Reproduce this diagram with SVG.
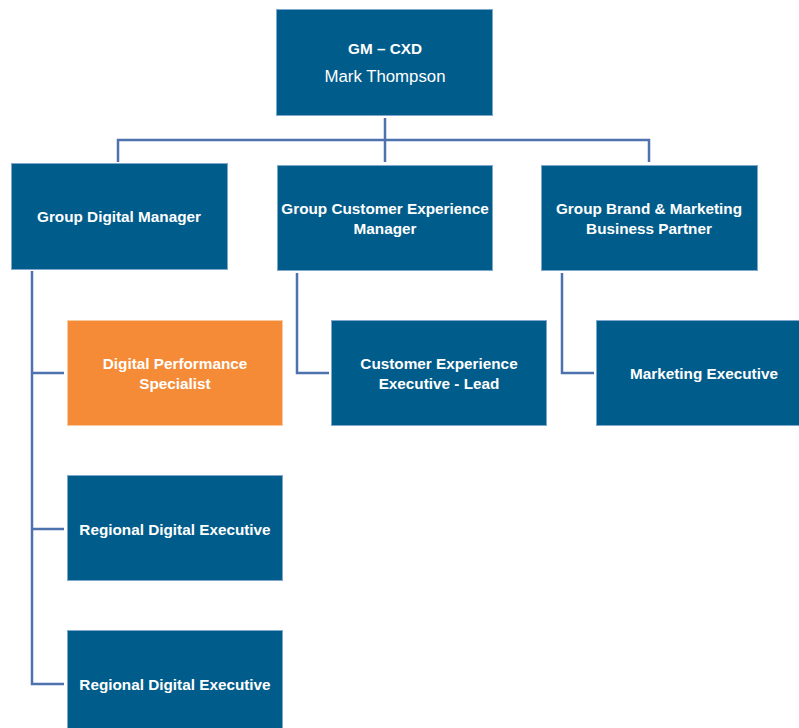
<svg xmlns="http://www.w3.org/2000/svg" width="799" height="728" viewBox="0 0 799 728">
<style>
.box{fill:#005C8A;stroke:#7FA8CC;stroke-width:1}
.orange{fill:#F58B36;stroke:#F9C9A0;stroke-width:1}
.t{font-family:"Liberation Sans",Arial,sans-serif;font-size:15.3px;font-weight:bold;fill:#fff;text-anchor:middle;dominant-baseline:central}
.n{font-weight:normal;font-size:16.8px}
.c{fill:none;stroke:#4E72AE;stroke-width:2.5}
</style>
<rect width="799" height="728" fill="#fff"/>
<g id="connectors">
<path class="c" d="M385 118V140M118 162V140H649V162M385 140V162"/>
<path class="c" d="M32 271V684H64M32 373H64M32 529H64"/>
<path class="c" d="M297 273V373H329"/>
<path class="c" d="M562 273V373H594"/>
</g>
<g id="gm-cxd"><rect class="box" x="276.5" y="9.5" width="216" height="106"/><text class="t" x="385" y="48">GM – CXD</text><text class="t n" x="385" y="76">Mark Thompson</text></g>
<g id="group-digital-manager"><rect class="box" x="11.5" y="163.5" width="216" height="106"/><text class="t" x="119" y="216">Group Digital Manager</text></g>
<g id="group-cx-manager"><rect class="box" x="277.5" y="165.5" width="215" height="105"/><text class="t" x="385" y="208">Group Customer Experience</text><text class="t" x="385" y="228">Manager</text></g>
<g id="group-brand-marketing"><rect class="box" x="541.5" y="165.5" width="216" height="105"/><text class="t" x="649" y="208">Group Brand &amp; Marketing</text><text class="t" x="649" y="228">Business Partner</text></g>
<g id="digital-performance-specialist"><rect class="orange" x="67.5" y="320.5" width="215" height="105"/><text class="t" x="175" y="363">Digital Performance</text><text class="t" x="175" y="383">Specialist</text></g>
<g id="cx-executive-lead"><rect class="box" x="331.5" y="320.5" width="215" height="105"/><text class="t" x="439" y="363">Customer Experience</text><text class="t" x="439" y="383">Executive - Lead</text></g>
<g id="marketing-executive"><rect class="box" x="596.5" y="320.5" width="216" height="105"/><text class="t" x="704" y="373">Marketing Executive</text></g>
<g id="regional-digital-executive-1"><rect class="box" x="67.5" y="475.5" width="215" height="105"/><text class="t" x="175" y="529">Regional Digital Executive</text></g>
<g id="regional-digital-executive-2"><rect class="box" x="67.5" y="630.5" width="215" height="105"/><text class="t" x="175" y="684">Regional Digital Executive</text></g>
</svg>
